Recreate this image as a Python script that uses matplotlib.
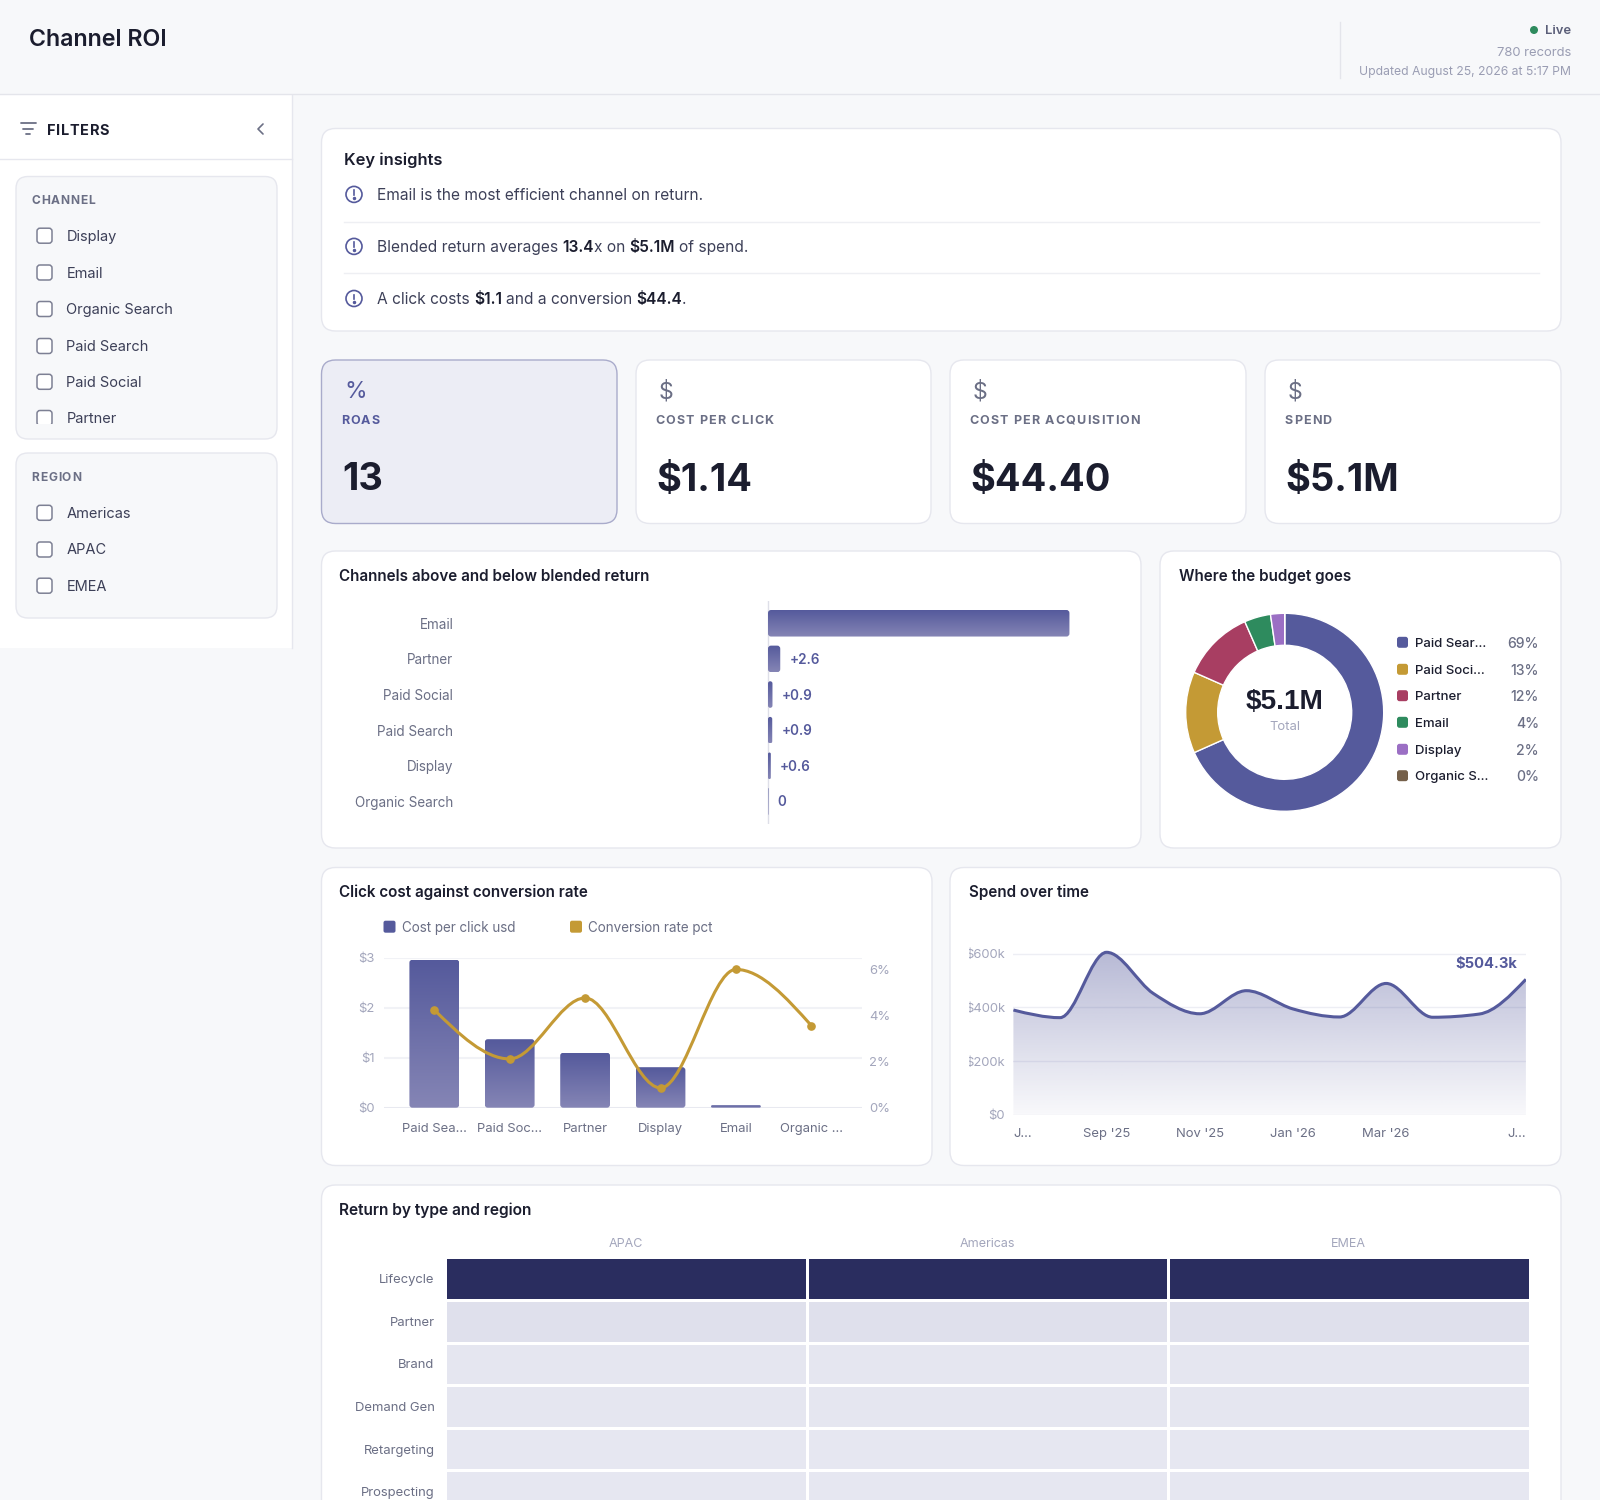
import numpy as np
import matplotlib.pyplot as plt
from matplotlib.colors import LinearSegmentedColormap, to_rgb
from matplotlib.patches import FancyBboxPatch, Circle, Rectangle, PathPatch
from matplotlib.path import Path
from matplotlib.transforms import IdentityTransform

W, H = 1600, 1500

# chart data
channels_filter = ['Display', 'Email', 'Organic Search', 'Paid Search', 'Paid Social', 'Partner']
regions_filter = ['Americas', 'APAC', 'EMEA']

kpi_labels = ['ROAS', 'COST PER CLICK', 'COST PER ACQUISITION', 'SPEND']
kpi_values = ['13', '$1.14', '$44.40', '$5.1M']
kpi_icons = ['%', '$', '$', '$']

diff_channels = ['Email', 'Partner', 'Paid Social', 'Paid Search', 'Display', 'Organic Search']
diff_values = [64.0, 2.6, 0.95, 0.9, 0.6, 0.1]
diff_labels = ['', '+2.6', '+0.9', '+0.9', '+0.6', '0']

budget_names = ['Paid Sear...', 'Paid Soci...', 'Partner', 'Email', 'Display', 'Organic S...']
budget_share = [68.4, 13.3, 11.8, 4.3, 2.3, 0.0]
budget_pct = ['69%', '13%', '12%', '4%', '2%', '0%']
budget_colors = ['#555A9C', '#C49A35', '#A83E62', '#2E8B5E', '#9B6FC4', '#75604A']

combo_names = ['Paid Sea...', 'Paid Soc...', 'Partner', 'Display', 'Email', 'Organic ...']
cpc_usd = [2.96, 1.37, 1.10, 0.81, 0.05, 0.0]
conv_pct = [4.25, 2.12, 4.77, 0.86, 6.01, 3.57]

spend_k = [390, 361.5, 605, 452, 376, 462, 394, 364, 489, 363, 375, 504.3]
spend_ticks = ['J...', '', "Sep '25", '', "Nov '25", '', "Jan '26", '', "Mar '26", '', '', 'J...']

heat_regions = ['APAC', 'Americas', 'EMEA']
heat_types = ['Lifecycle', 'Partner', 'Brand', 'Demand Gen', 'Retargeting', 'Prospecting']
heat_values = [[77, 77, 77],
               [15, 15, 15],
               [12.8, 12.8, 12.8],
               [12.9, 12.9, 12.9],
               [12.7, 12.7, 12.7],
               [12.3, 12.3, 12.3]]

INK = '#1B1D2E'
BODY = '#3D4058'
MUTED = '#6B6F85'
FAINT = '#A3A6BC'
LINE = '#E6E7EE'
INDIGO = '#555A9C'
BAR_LIGHT = '#8585B5'

plt.rcParams['font.family'] = ['Inter', 'DejaVu Sans']

fig = plt.figure(figsize=(W / 100, H / 100), dpi=100, facecolor='#F7F8FA')
bg = fig.add_axes([0, 0, 1, 1], zorder=0)
bg.set_xlim(0, W)
bg.set_ylim(H, 0)
bg.axis('off')
renderer = fig.canvas.get_renderer()


def T(x, y, s, size, color=INK, weight='normal', ha='left', va='center', **kw):
    # size is in pixels, figure runs at 100 dpi
    if va == 'center':
        y += 1
    return bg.text(x, y, s, fontsize=size * 0.72, color=color, fontweight=weight, ha=ha, va=va, **kw)


def width_of(s, size, weight='normal'):
    t = T(0, 0, s, size, weight=weight)
    w = t.get_window_extent(renderer).width
    t.remove()
    return w


def spaced(x, y, s, size, color, weight='bold', gap=1.0):
    # letter spacing is not available in matplotlib, place the letters one by one
    for ch in s:
        if ch == ' ':
            x += size * 0.28 + gap
            continue
        T(x, y + size * 0.36, ch, size, color, weight, va='baseline')
        x += width_of(ch, size, weight) + gap + size * 0.045


def mixed(x, y, parts, size):
    for s, bold in parts:
        weight = 'semibold' if bold else 'normal'
        color = INK if bold else BODY
        if s.startswith(' '):
            x += size * 0.27
        T(x, y, s.strip(), size, color, weight)
        x += width_of(s.strip(), size, weight)
        if s.endswith(' '):
            x += size * 0.27


def card(x0, y0, x1, y1, fc='white', ec=LINE, r=14):
    bg.add_patch(FancyBboxPatch((x0, y0), x1 - x0, y1 - y0, boxstyle=f'round,pad=0,rounding_size={r}',
                                fc=fc, ec=ec, lw=1.0))


def px_axes(x0, y0, x1, y1, **kw):
    a = fig.add_axes([x0 / W, 1 - y1 / H, (x1 - x0) / W, (y1 - y0) / H], zorder=2, **kw)
    a.patch.set_alpha(0)
    for sp in a.spines.values():
        sp.set_visible(False)
    return a


def gradient_fill(a, rect, top=INDIGO, bottom=BAR_LIGHT, r=3):
    # rect is a bar from the library, paint it over with a vertical gradient and round corners
    box = rect.get_window_extent()
    xlim, ylim = a.get_xlim(), a.get_ylim()
    c0, c1 = np.array(to_rgb(top)), np.array(to_rgb(bottom))
    grad = np.linspace(0, 1, 64)[:, None, None] * (c1 - c0) + c0
    x, y, w, h = rect.get_x(), rect.get_y(), rect.get_width(), rect.get_height()
    ylo, yhi = min(y, y + h), max(y, y + h)
    im = a.imshow(grad, extent=[x, x + w, ylo, yhi], aspect='auto', origin='upper' if ylim[1] > ylim[0] else 'lower',
                  zorder=2, interpolation='bilinear')
    rr = min(r, box.width / 2, box.height / 2)
    clip = FancyBboxPatch((box.x0, box.y0), box.width, box.height, boxstyle=f'round,pad=0,rounding_size={rr}',
                          transform=IdentityTransform())
    im.set_clip_path(clip)
    rect.set_visible(False)
    a.set_xlim(xlim)
    a.set_ylim(ylim)


def monotone_path(xs, ys):
    # same curve as a monotone-x line, bezier segments through the data points
    xs, ys = np.asarray(xs, float), np.asarray(ys, float)
    n = len(xs)
    t = np.zeros(n)
    for i in range(1, n - 1):
        h0, h1 = xs[i] - xs[i - 1], xs[i + 1] - xs[i]
        s0, s1 = (ys[i] - ys[i - 1]) / h0, (ys[i + 1] - ys[i]) / h1
        p = (s0 * h1 + s1 * h0) / (h0 + h1)
        t[i] = (np.sign(s0) + np.sign(s1)) * min(abs(s0), abs(s1), 0.5 * abs(p))
    t[0] = (3 * (ys[1] - ys[0]) / (xs[1] - xs[0]) - t[1]) / 2
    t[-1] = (3 * (ys[-1] - ys[-2]) / (xs[-1] - xs[-2]) - t[-2]) / 2
    verts, codes = [(xs[0], ys[0])], [Path.MOVETO]
    for i in range(n - 1):
        h = (xs[i + 1] - xs[i]) / 3
        verts += [(xs[i] + h, ys[i] + h * t[i]), (xs[i + 1] - h, ys[i + 1] - h * t[i + 1]), (xs[i + 1], ys[i + 1])]
        codes += [Path.CURVE4] * 3
    return verts, codes


# header
T(29, 39.5, 'Channel ROI', 23.2, INK, 'semibold')
bg.plot([0, W], [94, 94], color='#E4E5EB', lw=1)
bg.plot([1339.5, 1339.5], [22, 78], color='#E4E5EB', lw=1)
bg.add_patch(Circle((1534, 30), 4, fc='#2E8B5E', ec='none'))
T(1571, 30, 'Live', 13, '#5A5E78', 'semibold', ha='right')
T(1571, 52, '780 records', 13, '#9A9DB3', ha='right')
T(1571, 71, 'Updated August 25, 2026 at 5:17 PM', 12.2, '#9A9DB3', ha='right')

# sidebar
bg.add_patch(Rectangle((0, 95), 292, 553, fc='white', ec='none'))
bg.plot([292, 292], [95, 648], color=LINE, lw=1)
bg.plot([0, 292], [159, 159], color=LINE, lw=1)
for y, xa, xb in [(123, 20.5, 36), (128.5, 23, 33), (134, 26, 30)]:
    bg.plot([xa, xb], [y, y], color=MUTED, lw=1.3, solid_capstyle='round')
bg.plot([263, 258, 263], [124, 129, 134], color=MUTED, lw=1.2, solid_capstyle='round')
spaced(47, 129.5, 'FILTERS', 14.5, INK, 'bold', gap=0.0)

card(16, 176.5, 277, 439, fc='#F7F8FA', r=12)
card(16, 453, 277, 618, fc='#F7F8FA', r=12)
spaced(31.5, 200, 'CHANNEL', 12, MUTED, 'bold', gap=0.2)
spaced(31.5, 476.5, 'REGION', 12, MUTED, 'bold', gap=0.2)

filter_clip = Rectangle((0, 0), 292, 423.5, transform=bg.transData)
rows_y = [235.7, 272.5, 309, 346, 381.8, 418]
for name, y in zip(channels_filter, rows_y):
    box = FancyBboxPatch((37, y - 7.5), 15, 15, boxstyle='round,pad=0,rounding_size=3', fc='white', ec='#7D8094', lw=1.1)
    bg.add_patch(box)
    lab = T(66.5, y, name, 14.6, BODY)
    box.set_clip_path(filter_clip)
    lab.set_clip_path(filter_clip)
    lab.set_clip_on(True)
for name, y in zip(regions_filter, [512.8, 549.5, 585.7]):
    bg.add_patch(FancyBboxPatch((37, y - 7.5), 15, 15, boxstyle='round,pad=0,rounding_size=3', fc='white', ec='#7D8094', lw=1.1))
    T(66.5, y, name, 14.6, BODY)

# key insights
card(321.5, 128.5, 1561, 331)
T(344, 159, 'Key insights', 16.5, INK, 'semibold')
insights = [[('Email is the most efficient channel on return.', False)],
            [('Blended return averages ', False), ('13.4', True), ('x on ', False), ('$5.1M', True), (' of spend.', False)],
            [('A click costs ', False), ('$1.1', True), (' and a conversion ', False), ('$44.4', True), ('.', False)]]
for parts, y in zip(insights, [194.4, 246.4, 298.5]):
    bg.add_patch(Circle((354, y), 8, fc='none', ec=INDIGO, lw=1.2))
    bg.plot([354, 354], [y - 4, y + 0.8], color=INDIGO, lw=1.2)
    bg.plot([354], [y + 3.6], 'o', color=INDIGO, ms=1.5)
    mixed(377, y, parts, 15.5)
for y in [221.5, 272.5]:
    bg.plot([344, 1539], [y, y], color='#EEEFF3', lw=1)

# kpi cards
kpi_x = [(321.5, 617), (636, 931), (950, 1246), (1265, 1561)]
for i, (x0, x1) in enumerate(kpi_x):
    on = i == 0
    card(x0, 360, x1, 523.5, fc='#ECEDF5' if on else 'white', ec='#A9ABCB' if on else LINE)
    T(x0 + 22.5, 391, kpi_icons[i], 23, INDIGO if on else MUTED)
    spaced(x0 + 19.5, 419.5, kpi_labels[i], 12.5, INDIGO if on else MUTED, 'bold', gap=0.55)
    T(x0 + 20.5, 479.5, kpi_values[i], 38, INK, 'bold')

# channels above and below
card(321.5, 551, 1141, 848)
T(339, 575.5, 'Channels above and below blended return', 15.2, INK, 'semibold')
ax = px_axes(461, 601, 1085, 823.7)
px_per_unit = 4.71
ax.set_xlim(-(768 - 461) / px_per_unit, (1085 - 768) / px_per_unit)
ax.set_ylim(5.625, -0.625)
bars = ax.barh(range(6), diff_values, height=0.745, color=INDIGO)
for b in bars:
    gradient_fill(ax, b)
ax.axvline(0, color='#DEDFE8', lw=1, zorder=1)
ax.set_yticks(range(6), diff_channels)
ax.set_xticks([])
ax.tick_params(axis='y', length=0, pad=5.5, labelsize=13.5 * 0.72, labelcolor=MUTED)
for i, lab in enumerate(diff_labels):
    ax.annotate(lab, (diff_values[i], i), xytext=(6.5, -0.7), textcoords='offset points', va='center',
                fontsize=13.5 * 0.72, color=INDIGO, fontweight='semibold')

# donut
card(1160, 551, 1561, 848)
T(1179, 575.5, 'Where the budget goes', 15.2, INK, 'semibold')
ax = px_axes(1184.7, 612.3, 1384.7, 812.3)
ax.pie(budget_share, colors=budget_colors, startangle=90, counterclock=False, radius=0.99,
       wedgeprops=dict(width=0.99 * 32 / 99, edgecolor='white', linewidth=1))
ax.set_xlim(-1, 1)
ax.set_ylim(-1, 1)
T(1284.7, 701.5, '$5.1M', 28, INK, 'bold', ha='center', family='Liberation Sans')
T(1284.7, 725.5, 'Total', 13, FAINT, ha='center')
for name, pct, col, y in zip(budget_names, budget_pct, budget_colors, [642.3, 669.3, 695.7, 722.3, 749.3, 775.7]):
    bg.add_patch(FancyBboxPatch((1397, y - 5.5), 11, 11, boxstyle='round,pad=0,rounding_size=2.5', fc=col, ec='none'))
    T(1415, y + 0.5, name, 13.2, INK, 'medium')
    T(1539, y + 0.5, pct, 14, MUTED, 'medium', ha='right')

# click cost against conversion
card(321.5, 867.5, 932, 1165.5)
T(339, 891.7, 'Click cost against conversion rate', 15.2, INK, 'semibold')
for x, col, name in [(383.5, INDIGO, 'Cost per click usd'), (570, '#C49A35', 'Conversion rate pct')]:
    bg.add_patch(FancyBboxPatch((x, 920.7), 12, 12, boxstyle='round,pad=0,rounding_size=2', fc=col, ec='none'))
    T(x + 18, 926.7, name, 13.5, MUTED)
ax = px_axes(384, 957.7, 862, 1107.7)
ax.set_xlim(-0.667, 5.672)
ax.set_ylim(0, 3)
ax.set_yticks([0, 1, 2, 3], ['$0', '$1', '$2', '$3'])
ax.grid(axis='y', color='#F1F2F6', lw=1.5)
ax.set_axisbelow(True)
ax.axhline(0, color='#E8E9F0', lw=2, zorder=1)
bars = ax.bar(range(6), cpc_usd, width=0.66, color=INDIGO)
for b in bars:
    gradient_fill(ax, b)
ax.set_xticks(range(6), combo_names)
ax.tick_params(axis='y', length=0, pad=7, labelsize=13 * 0.72, labelcolor=FAINT)
ax.tick_params(axis='x', length=0, pad=11, labelsize=13 * 0.72, labelcolor=MUTED)
ax2 = ax.twinx()
ax2.patch.set_alpha(0)
for sp in ax2.spines.values():
    sp.set_visible(False)
ax2.set_ylim(0, 6.52)
ax2.set_yticks([0, 2, 4, 6], ['0%', '2%', '4%', '6%'])
ax2.tick_params(axis='y', length=0, pad=5, labelsize=13 * 0.72, labelcolor=FAINT)
verts, codes = monotone_path(range(6), conv_pct)
ax2.add_patch(PathPatch(Path(verts, codes), fc='none', ec='#C49A35', lw=2.2, zorder=3))
ax2.plot(range(6), conv_pct, 'o', color='#C49A35', ms=5.2, zorder=4)

# spend over time
card(950, 867.5, 1561, 1165.5)
T(968.7, 891.7, 'Spend over time', 15.2, INK, 'semibold')
ax = px_axes(1013.4, 942.9, 1525.9, 1114.7)
ax.set_xlim(0, 11)
ax.set_ylim(0, 640)
months = np.arange(12)
verts, codes = monotone_path(months, spend_k)
area = Path(verts + [(11, 0), (0, 0), (0, spend_k[0])], codes + [Path.LINETO, Path.LINETO, Path.CLOSEPOLY])
grad = np.zeros((128, 1, 4))
grad[..., :3] = to_rgb(INDIGO)
grad[:, 0, 3] = np.linspace(0.42, 0.04, 128)
im = ax.imshow(grad, extent=[0, 11, 0, max(spend_k)], aspect='auto', origin='upper', zorder=1)
im.set_clip_path(area, transform=ax.transData)
ax.set_xlim(0, 11)
ax.set_ylim(0, 640)
ax.add_patch(PathPatch(Path(verts, codes), fc='none', ec=INDIGO, lw=2.2, zorder=4))
ax.set_yticks([0, 200, 400, 600], ['$0', '$200k', '$400k', '$600k'])
for g in [200, 400, 600]:
    ax.axhline(g, color=INDIGO, alpha=0.1, lw=1, zorder=2)
ax.axhline(0, color='#E8E9F0', lw=1, zorder=2)
ax.set_xticks(months, spend_ticks)
ax.tick_params(axis='y', length=0, pad=6, labelsize=13 * 0.72, labelcolor=FAINT)
ax.tick_params(axis='x', length=0, pad=9.5, labelsize=13 * 0.72, labelcolor=MUTED)
ticklabs = ax.get_xticklabels()
ticklabs[0].set_ha('left')
ticklabs[-1].set_ha('right')
# the left edge of the long tick labels is cut off in the original too
label_clip = Rectangle((968.5, 900), 60, 250, transform=bg.transData)
for lab in ax.get_yticklabels():
    lab.set_clip_path(label_clip)
    lab.set_clip_on(True)
T(1517, 962.7, '$504.3k', 14.7, INDIGO, 'bold', ha='right')

# return by type and region
card(321.5, 1185, 1561, 1560)
T(339, 1209, 'Return by type and region', 15.5, INK, 'semibold')
ax = px_axes(445, 1257.3, 1529.6, 1512.9)
heat_cmap = LinearSegmentedColormap.from_list('heat', ['#E7E8F2', '#2A2D5F'])
ax.pcolormesh(np.array(heat_values), cmap=heat_cmap, vmin=12, vmax=77, edgecolors='white', linewidth=2)
ax.set_ylim(6, 0)
ax.set_xticks(np.arange(3) + 0.5, heat_regions)
ax.set_yticks(np.arange(6) + 0.5, heat_types)
ax.xaxis.tick_top()
ax.tick_params(axis='x', length=0, pad=5.5, labelsize=12.5 * 0.72, labelcolor=FAINT)
ax.tick_params(axis='y', length=0, pad=7.5, labelsize=13 * 0.72, labelcolor=MUTED)

fig.savefig('out.png', dpi=100, facecolor=fig.get_facecolor())
